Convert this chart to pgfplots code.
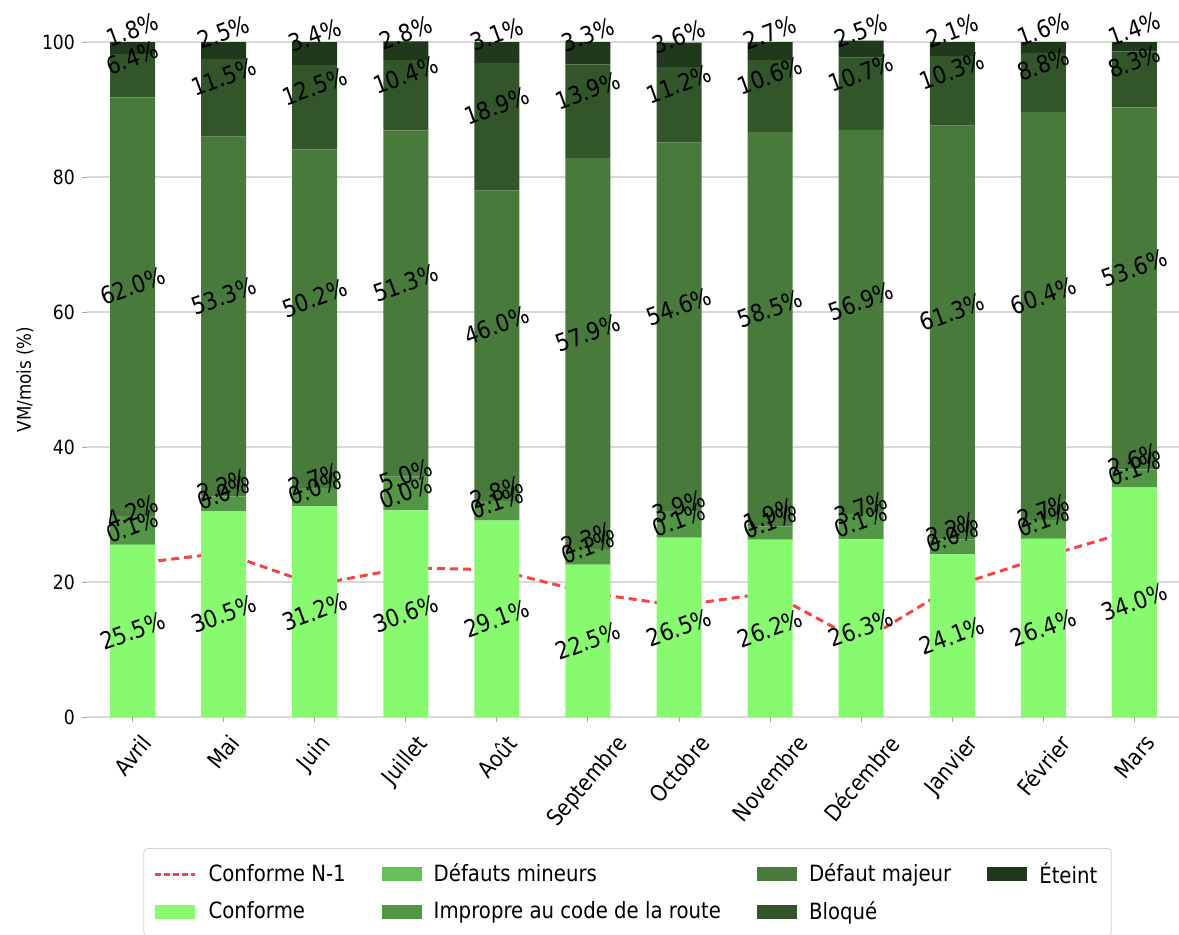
\documentclass[border=0pt]{standalone}
\usepackage{fontspec}
\setmainfont{DejaVu Sans}[FakeStretch=0.88]
\usepackage{graphicx}
\usepackage{pgfplots}
\usepackage{pgfplotstable}
\pgfplotsset{compat=1.18}

\definecolor{cC}{RGB}{136,250,112}
\definecolor{cDM}{RGB}{104,190,88}
\definecolor{cImp}{RGB}{82,150,70}
\definecolor{cMaj}{RGB}{72,122,60}
\definecolor{cBlo}{RGB}{50,86,42}
\definecolor{cEt}{RGB}{32,56,28}
\definecolor{cN}{RGB}{245,70,70}

\pgfplotstableread{
x C DM Imp Maj Blo Et N1
0 25.5 0.1 4.2 62.0 6.4 1.8 22.7
1 30.5 0.0 2.2 53.3 11.5 2.5 24.3
2 31.2 0.0 2.7 50.2 12.5 3.4 19.6
3 30.6 0.0 5.0 51.3 10.4 2.8 22.1
4 29.1 0.1 2.8 46.0 18.9 3.1 21.8
5 22.5 0.1 2.3 57.9 13.9 3.3 18.4
6 26.5 0.1 3.9 54.6 11.2 3.6 16.5
7 26.2 0.1 1.9 58.5 10.6 2.7 18.4
8 26.3 0.1 3.7 56.9 10.7 2.5 11.1
9 24.1 0.0 2.2 61.3 10.3 2.1 19.3
10 26.4 0.1 2.7 60.4 8.8 1.6 23.7
11 34.0 0.1 2.6 53.6 8.3 1.4 27.7
}\data

\newcommand{\ml}[1]{\rotatebox{50}{#1}}

\pgfplotsset{
  barleg/.style={legend image code/.code={\fill[##1, draw=none, sharp corners] (0pt,-3.5pt) rectangle (20pt,3.5pt);}},
  lineleg/.style={legend image code/.code={\draw[##1, sharp corners] (0pt,0pt) -- (20pt,0pt);}},
  seglab/.style={sharp plot, draw=none, stack plots=false, forget plot,
    point meta=explicit,
    nodes near coords={\rotatebox{20}{\pgfmathprintnumber[fixed,fixed zerofill,precision=1]{\pgfplotspointmeta}\%}},
    every node near coord/.append style={anchor=south, font=\fontsize{12}{14}\selectfont, text=black, inner sep=0pt}},
}

\begin{document}
\begin{tikzpicture}
\begin{axis}[
  name=ax, at={(0,0)}, anchor=south west,
  scale only axis, width=546.5pt, height=337.5pt,
  xmin=-0.5, xmax=11.5, ymin=0, ymax=100,
  clip=false,
  ybar stacked, bar width=22.5pt,
  axis line style={draw=none},
  ymajorgrids, grid style={gray!30, line width=0.9pt},
  ytick={0,20,40,60,80,100},
  xtick={0,...,11},
  xticklabels={\ml{Avril},\ml{Mai},\ml{Juin},\ml{Juillet},\ml{Août},\ml{Septembre},\ml{Octobre},\ml{Novembre},\ml{Décembre},\ml{Janvier},\ml{Février},\ml{Mars}},
  xticklabel style={anchor=north, font=\fontsize{11.3}{13}\selectfont, yshift=-2pt},
  yticklabel style={font=\fontsize{9.8}{11}\selectfont},
  tick align=outside, major tick length=2.5pt, tick style={gray!70, line width=0.5pt},
  xtick pos=left, ytick pos=left,
  ylabel={VM/mois (\%)},
  every axis y label/.style={at={(axis description cs:-0.0567,0.5)}, rotate=90, anchor=center, font=\fontsize{9.5}{11}\selectfont},
  /pgf/number format/assume math mode=true,
  legend columns=4,
  legend cell align=left,
  legend style={at={(axis description cs:0.4945,0)}, anchor=north, yshift=-65.5pt,
    draw=gray!35, rounded corners=2pt, font=\fontsize{11.2}{13}\selectfont,
    inner xsep=5pt, inner ysep=5pt, row sep=3.5pt,
    /tikz/every odd column/.append style={column sep=4pt},
    /tikz/every even column/.append style={column sep=16pt}},
]
\addplot[fill=cC, draw=none, forget plot] table[x=x,y=C]{\data};
\addplot[fill=cDM, draw=none, forget plot] table[x=x,y=DM]{\data};
\addplot[fill=cImp, draw=none, forget plot] table[x=x,y=Imp]{\data};
\addplot[fill=cMaj, draw=none, forget plot] table[x=x,y=Maj]{\data};
\addplot[fill=cBlo, draw=none, forget plot] table[x=x,y=Blo]{\data};
\addplot[fill=cEt, draw=none, forget plot] table[x=x,y=Et]{\data};

\addplot[sharp plot, stack plots=false, forget plot, cN, line width=1.5pt, dash pattern=on 4pt off 2.5pt] table[x=x,y=N1]{\data};

% the stacked-bar node placement puts each label halfway up its (unstacked) value, hence 2*(centre)
\addplot[seglab, every node near coord/.append style={anchor=center}] table[x=x, y expr=2*(\thisrow{C}/2), meta=C]{\data};
\addplot[seglab] table[x=x, y expr=2*(\thisrow{C}+\thisrow{DM}/2), meta=DM]{\data};
\addplot[seglab] table[x=x, y expr=2*(\thisrow{C}+\thisrow{DM}+\thisrow{Imp}/2), meta=Imp]{\data};
\addplot[seglab] table[x=x, y expr=2*(\thisrow{C}+\thisrow{DM}+\thisrow{Imp}+\thisrow{Maj}/2), meta=Maj]{\data};
\addplot[seglab] table[x=x, y expr=2*(\thisrow{C}+\thisrow{DM}+\thisrow{Imp}+\thisrow{Maj}+\thisrow{Blo}/2), meta=Blo]{\data};
\addplot[seglab] table[x=x, y expr=2*(\thisrow{C}+\thisrow{DM}+\thisrow{Imp}+\thisrow{Maj}+\thisrow{Blo}+\thisrow{Et}/2), meta=Et]{\data};

\addlegendimage{lineleg, cN, line width=1.5pt, dash pattern=on 3pt off 1.5pt}
\addlegendentry{Conforme N-1}
\addlegendimage{barleg, fill=cDM}
\addlegendentry{Défauts mineurs}
\addlegendimage{barleg, fill=cMaj}
\addlegendentry{Défaut majeur}
\addlegendimage{barleg, fill=cEt}
\addlegendentry{Éteint}
\addlegendimage{barleg, fill=cC}
\addlegendentry{Conforme}
\addlegendimage{barleg, fill=cImp}
\addlegendentry{Impropre au code de la route}
\addlegendimage{barleg, fill=cBlo}
\addlegendentry{Bloqué}
\end{axis}
\pgfresetboundingbox
\path (-43.5pt,-108.5pt) rectangle (546pt,358.5pt);
\end{tikzpicture}
\end{document}
